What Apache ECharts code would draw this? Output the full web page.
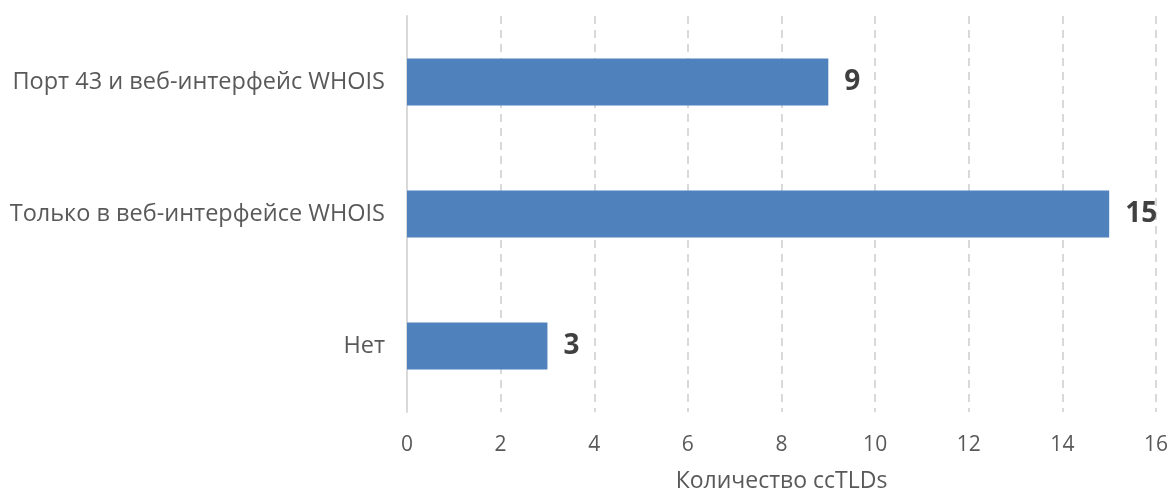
<!DOCTYPE html>
<html>
<head>
<meta charset="utf-8">
<script src="https://cdn.jsdelivr.net/npm/echarts@6/dist/echarts.min.js"></script>
<style>
  html, body { margin: 0; padding: 0; background: #fff; }
  #chart { width: 1170px; height: 490px; }
</style>
</head>
<body>
<div id="chart"></div>
<script>
const categories = ['Нет', 'Только в веб-интерфейсе WHOIS', 'Порт 43 и веб-интерфейс WHOIS']
const values = [3, 15, 9]
const axisName = 'Количество ccTLDs'

const font = '"Open Sans", "Noto Sans", sans-serif'
const chart = echarts.init(document.getElementById('chart'))

chart.setOption({
  backgroundColor: '#fff',
  animation: false,
  grid: { left: 407, right: 14, top: 16, bottom: 78, outerBoundsMode: 'none', containLabel: false },
  xAxis: {
    type: 'value',
    min: 0,
    max: 16,
    interval: 2,
    name: axisName,
    nameLocation: 'middle',
    nameGap: 58,
    nameTextStyle: { color: '#595959', fontSize: 23, fontFamily: font },
    axisLine: { show: false },
    axisTick: { show: false },
    axisLabel: { color: '#595959', fontSize: 21, fontFamily: font, margin: 23 },
    splitLine: { lineStyle: { color: '#d9d9d9', type: [8, 6], width: 2 } },
  },
  yAxis: {
    type: 'category',
    data: categories,
    axisLine: { lineStyle: { color: '#d9d9d9', width: 2 } },
    axisTick: { show: false },
    axisLabel: { color: '#595959', fontSize: 23.5, fontFamily: font, margin: 22 },
  },
  series: [
    {
      type: 'bar',
      data: values,
      barWidth: 47,
      itemStyle: { color: '#4f81bd' },
      label: {
        show: true,
        position: 'right',
        distance: 16,
        color: '#404040',
        fontSize: 28,
        fontWeight: 'bold',
        fontFamily: font,
      },
    },
  ],
})
</script>
</body>
</html>
